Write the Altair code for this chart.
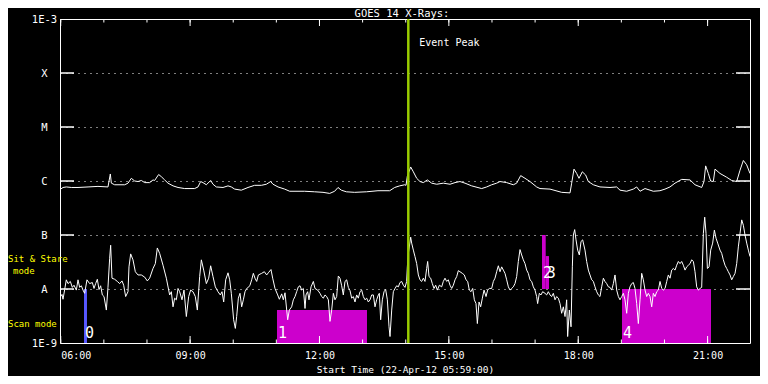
import json
import altair as alt
import pandas as pd

# ---------------- data (time in hours UT, flux as log10 W/m^2) ----------------
long_time = [5.999, 6.053, 6.130, 6.246, 6.401, 6.633, 6.864, 7.096, 7.150, 7.174, 7.251, 7.483, 7.560, 7.637,
             7.715, 7.792, 7.869, 7.947, 8.062, 8.140, 8.178, 8.271, 8.333, 8.410, 8.488, 8.604, 8.720, 8.874,
             9.106, 9.183, 9.245, 9.299, 9.377, 9.477, 9.531, 9.608, 9.763, 9.879, 9.956, 10.034, 10.188, 10.343,
             10.497, 10.652, 10.768, 10.868, 10.923, 11.039, 11.193, 11.309, 11.657, 11.889, 12.082, 12.237,
             12.352, 12.430, 12.507, 12.623, 12.816, 13.087, 13.357, 13.628, 13.744, 13.860, 13.976, 14.007,
             14.038, 14.115, 14.177, 14.254, 14.331, 14.409, 14.501, 14.602, 14.718, 14.872, 15.027, 15.143,
             15.258, 15.375, 15.529, 15.761, 15.877, 15.993, 16.109, 16.186, 16.341, 16.495, 16.573, 16.666,
             16.766, 16.882, 17.036, 17.114, 17.346, 17.616, 17.810, 17.848, 17.902, 17.964, 18.018, 18.095,
             18.173, 18.234, 18.350, 18.505, 18.737, 18.891, 18.969, 19.123, 19.278, 19.355, 19.433, 19.549,
             19.742, 19.896, 20.012, 20.128, 20.244, 20.399, 20.592, 20.708, 20.863, 20.917, 20.955, 21.017,
             21.071, 21.133, 21.172, 21.288, 21.442, 21.558, 21.674, 21.752, 21.829, 21.906, 21.983]
long_logflux = [-6.15, -6.12, -6.11, -6.12, -6.12, -6.11, -6.10, -6.11, -5.87, -6.04, -6.07, -6.07, -6.04, -5.95,
                -6.00, -6.01, -5.99, -6.03, -6.03, -5.98, -5.99, -5.88, -5.92, -5.98, -6.04, -6.09, -6.12, -6.14,
                -6.14, -6.11, -6.01, -6.03, -6.07, -5.99, -6.06, -6.11, -6.12, -6.09, -6.11, -6.15, -6.17, -6.12,
                -6.08, -6.08, -6.06, -6.01, -6.06, -6.11, -6.15, -6.19, -6.19, -6.20, -6.21, -6.23,
                -6.19, -6.12, -6.17, -6.20, -6.21, -6.20, -6.18, -6.18, -6.12, -6.09, -6.07, -6.08,
                -5.91, -5.74, -5.83, -5.95, -6.01, -6.03, -5.98, -6.04, -6.06, -6.04, -6.06, -6.03,
                -6.01, -6.04, -6.09, -6.14, -6.11, -6.07, -6.04, -6.01, -6.03, -6.07, -6.04, -5.90,
                -5.95, -6.01, -6.11, -6.14, -6.15, -6.21, -6.22, -6.04, -5.78, -5.86, -5.95, -5.83,
                -5.89, -6.01, -6.07, -6.11, -6.12, -6.11, -6.17, -6.19, -6.15, -6.11, -6.19, -6.14,
                -6.19, -6.18, -6.15, -6.11, -6.04, -5.97, -5.98, -6.07, -6.12, -6.01, -5.72, -5.86,
                -6.00, -6.01, -5.78, -5.86, -5.93, -5.99, -6.01, -5.80, -5.62, -5.70, -5.86]

short_time = [5.999, 6.030, 6.053, 6.092, 6.130, 6.169, 6.223, 6.269, 6.308, 6.362, 6.401, 6.439, 6.478, 6.517,
              6.555, 6.609, 6.671, 6.733, 6.772, 6.810, 6.849, 6.888, 6.926, 6.965, 7.004, 7.058, 7.096, 7.135,
              7.158, 7.189, 7.251, 7.313, 7.367, 7.421, 7.460, 7.506, 7.560, 7.583, 7.622, 7.676, 7.730, 7.792,
              7.869, 7.947, 8.008, 8.062, 8.140, 8.194, 8.240, 8.294, 8.372, 8.449, 8.526, 8.565, 8.604, 8.642,
              8.681, 8.720, 8.758, 8.812, 8.859, 8.913, 8.967, 9.013, 9.067, 9.121, 9.168, 9.222, 9.261, 9.315,
              9.377, 9.431, 9.477, 9.531, 9.585, 9.647, 9.701, 9.740, 9.779, 9.825, 9.879, 9.918, 9.956, 10.010,
              10.049, 10.080, 10.119, 10.157, 10.196, 10.235, 10.273, 10.312, 10.351, 10.389, 10.428, 10.467,
              10.505, 10.544, 10.583, 10.660, 10.722, 10.776, 10.814, 10.876, 10.915, 10.969, 11.031, 11.070,
              11.124, 11.162, 11.201, 11.240, 11.263, 11.301, 11.355, 11.394, 11.433, 11.471, 11.510, 11.549,
              11.587, 11.626, 11.665, 11.688, 11.726, 11.757, 11.804, 11.858, 11.896, 11.958, 12.012, 12.051,
              12.090, 12.128, 12.167, 12.206, 12.244, 12.283, 12.322, 12.360, 12.399, 12.437, 12.476, 12.515,
              12.553, 12.592, 12.631, 12.669, 12.708, 12.747, 12.785, 12.824, 12.863, 12.901, 12.940, 12.979,
              13.017, 13.056, 13.095, 13.133, 13.172, 13.211, 13.249, 13.288, 13.326, 13.365, 13.388, 13.419,
              13.458, 13.497, 13.535, 13.574, 13.613, 13.636, 13.675, 13.713, 13.752, 13.790, 13.829, 13.867,
              13.906, 13.945, 13.983, 14.022, 14.038, 14.061, 14.115, 14.138, 14.177, 14.215, 14.254, 14.293,
              14.331, 14.370, 14.409, 14.447, 14.486, 14.509, 14.540, 14.579, 14.617, 14.656, 14.695, 14.733,
              14.780, 14.834, 14.872, 14.911, 14.950, 14.988, 15.027, 15.066, 15.104, 15.143, 15.182, 15.220,
              15.259, 15.313, 15.359, 15.398, 15.437, 15.475, 15.514, 15.553, 15.591, 15.630, 15.661, 15.700,
              15.738, 15.777, 15.816, 15.862, 15.900, 15.939, 15.993, 16.032, 16.070, 16.109, 16.148, 16.186,
              16.225, 16.264, 16.302, 16.341, 16.380, 16.418, 16.457, 16.495, 16.534, 16.573, 16.611, 16.650,
              16.689, 16.727, 16.766, 16.805, 16.843, 16.882, 16.921, 16.959, 16.998, 17.036, 17.059, 17.098,
              17.137, 17.175, 17.230, 17.268, 17.307, 17.346, 17.384, 17.423, 17.462, 17.500, 17.539, 17.578,
              17.616, 17.655, 17.694, 17.732, 17.755, 17.794, 17.833, 17.864, 17.887, 17.918, 17.949, 17.987,
              18.026, 18.065, 18.103, 18.157, 18.196, 18.235, 18.273, 18.312, 18.351, 18.389, 18.428, 18.467,
              18.505, 18.544, 18.583, 18.621, 18.660, 18.699, 18.737, 18.776, 18.815, 18.853, 18.892, 18.931,
              18.969, 19.008, 19.047, 19.085, 19.124, 19.162, 19.201, 19.240, 19.278, 19.317, 19.356, 19.394,
              19.433, 19.472, 19.510, 19.549, 19.588, 19.626, 19.665, 19.704, 19.742, 19.781, 19.820, 19.858,
              19.897, 19.936, 19.974, 20.013, 20.052, 20.090, 20.129, 20.167, 20.206, 20.245, 20.283, 20.322,
              20.361, 20.399, 20.438, 20.477, 20.515, 20.554, 20.593, 20.631, 20.670, 20.708, 20.747, 20.786,
              20.824, 20.863, 20.902, 20.933, 20.964, 20.995, 21.034, 21.072, 21.118, 21.157, 21.196, 21.234,
              21.288, 21.327, 21.365, 21.404, 21.443, 21.481, 21.520, 21.559, 21.597, 21.636, 21.675, 21.713,
              21.752, 21.791, 21.829, 21.868, 21.907, 21.945, 21.984]
short_logflux = [-8.14, -8.10, -8.19, -8.01, -7.83, -7.90, -7.86, -7.97, -7.93, -8.02, -7.83, -7.97, -7.94, -8.02,
                 -8.08, -7.83, -7.90, -7.88, -7.99, -7.90, -7.82, -8.01, -7.94, -8.11, -8.14, -8.39, -7.97, -7.43,
                 -7.19, -7.80, -7.82, -7.86, -7.90, -7.85, -7.93, -8.14, -8.05, -7.59, -7.35, -7.46, -7.68, -7.74,
                 -7.74, -7.78, -7.85, -7.80, -7.62, -7.53, -7.24, -7.34, -7.56, -7.80, -8.11, -8.05, -8.33, -8.17,
                 -8.20, -7.99, -8.05, -8.20, -8.02, -8.51, -8.14, -8.02, -8.05, -8.14, -8.39, -7.77, -7.46, -7.65,
                 -7.90, -7.80, -7.57, -7.77, -7.96, -8.05, -8.11, -8.05, -8.24, -7.83, -7.70, -7.83, -8.08, -8.57,
                 -8.73, -8.51, -8.17, -8.08, -8.33, -8.20, -8.05, -7.99, -7.97, -7.93, -7.83, -7.71,
                 -7.80, -7.86, -7.74, -7.71, -7.68, -7.74, -7.70, -7.64, -7.80, -7.99, -8.11, -8.19,
                 -8.09, -8.20, -8.07, -8.39, -8.57, -8.39, -8.33, -8.20, -8.14, -8.05, -7.96, -7.94,
                 -8.02, -7.99, -8.36, -8.11, -8.05, -8.20, -7.96, -7.86, -7.99, -8.02, -8.08, -8.14,
                 -8.17, -8.11, -8.14, -8.20, -8.60, -8.39, -8.08, -8.20, -8.14, -7.76, -7.80, -7.94,
                 -8.11, -7.86, -7.83, -7.97, -8.03, -8.17, -8.14, -8.24, -8.11, -8.17, -8.05, -8.02,
                 -8.14, -8.20, -8.17, -8.24, -8.20, -8.11, -8.11, -8.33, -8.20, -8.11, -8.08, -8.57,
                 -8.20, -8.05, -8.01, -8.20, -8.70, -8.88, -8.39, -8.05, -7.99, -7.94, -7.96, -7.88,
                 -7.86, -7.93, -7.97, -7.86, -7.59, -7.34, -7.04, -7.15, -7.28, -7.40, -7.53, -7.74,
                 -7.83, -7.86, -7.80, -7.86, -7.62, -7.49, -7.77, -7.80, -7.90, -7.99, -7.93, -8.02,
                 -7.93, -7.96, -7.86, -7.80, -7.86, -7.83, -7.93, -7.99, -7.93, -7.83, -7.77, -7.66,
                 -7.68, -7.71, -7.74, -7.83, -7.86, -8.02, -8.05, -7.99, -8.20, -8.27, -8.64, -8.24,
                 -8.33, -8.17, -8.02, -8.14, -8.02, -7.99, -7.99, -7.86, -7.80, -7.68, -7.57, -7.68,
                 -7.59, -7.65, -7.71, -7.83, -7.96, -8.02, -7.99, -7.96, -7.90, -7.77, -7.49, -7.27,
                 -7.37, -7.46, -7.53, -7.65, -7.71, -7.83, -7.86, -7.96, -8.02, -8.14, -8.27, -8.08,
                 -8.11, -8.05, -8.08, -8.11, -8.05, -8.11, -8.14, -8.08, -8.20, -8.14, -8.17, -8.27,
                 -8.45, -8.33, -8.51, -8.20, -8.88, -8.39, -8.70, -7.59, -7.00, -6.90, -7.09, -7.28,
                 -7.37, -7.12, -7.09, -7.28, -7.49, -7.65, -7.74, -7.83, -7.86, -7.96, -8.05, -8.11,
                 -8.14, -7.96, -7.80, -7.86, -7.90, -7.96, -7.97, -8.02, -7.90, -7.74, -8.02, -8.14,
                 -8.20, -8.14, -8.08, -8.20, -8.45, -8.08, -7.96, -7.90, -7.88, -7.99, -8.27, -8.64,
                 -8.20, -7.71, -7.83, -8.02, -8.14, -8.08, -8.14, -8.33, -8.08, -8.14, -8.05, -8.02,
                 -7.86, -7.99, -8.02, -7.99, -7.86, -7.74, -7.80, -7.65, -7.62, -7.65, -7.56, -7.49,
                 -7.53, -7.49, -7.56, -7.65, -7.59, -7.56, -7.53, -7.46, -7.49, -7.68, -7.96, -8.02,
                 -7.99, -7.97, -6.97, -6.67, -6.97, -7.62, -7.59, -7.28, -7.15, -6.91, -7.06, -7.15,
                 -7.28, -7.34, -7.46, -7.56, -7.62, -7.68, -7.74, -7.83, -7.77, -7.71, -7.53, -7.22,
                 -6.97, -6.72, -6.82, -7.00, -7.15, -7.28, -7.40]

obs_id = ["0", "1", "2", "3", "4"]
obs_start = [6.540, 11.015, 17.160, 17.246, 19.015]
obs_end = [6.609, 13.102, 17.246, 17.322, 21.079]
obs_low = [-9.0, -9.0, -8.0, -8.0, -9.0]
obs_high = [-8.0, -8.39, -7.0, -7.39, -8.0]
obs_kind = ["other", "scan", "sitstare", "sitstare", "scan"]
obs_label_level = [-8.91, -8.91, -7.80, -7.80, -8.91]

kinds = ["other", "scan", "sitstare"]
kind_colors = ["#5858ff", "#cc00cc", "#cc00cc"]

event_time = 14.06
event_label = "Event Peak"

level_values = [-9, -8, -7, -6, -5, -4, -3]
level_labels = ["1E-9", "A", "B", "C", "M", "X", "1E-3"]
hour_ticks = list(range(6, 22))
hour_labels = [6, 9, 12, 15, 18, 21]
t_start = 5 + 59 / 60
t_end = t_start + 16

mode_text = ["Sit & Stare", "mode", "Scan mode"]
mode_level = [-7.44, -7.67, -8.65]

title_text = "GOES 14 X-Rays:"
x_title = "Start Time (22-Apr-12 05:59:00)"

# ---------------- chart ----------------
FONT = "DejaVu Sans Mono"
W, H = 690, 324
xs = alt.Scale(domain=[t_start, t_end], nice=False, zero=False)
ys = alt.Scale(domain=[-9, -3], nice=False, zero=False)

x_axis = alt.Axis(values=hour_labels,
                  labelExpr="(datum.value < 10 ? '0' : '') + datum.value + ':00'",
                  title=x_title, grid=False, ticks=False, tickSize=0, domain=False,
                  labelPadding=7, labelColor="white", labelFont=FONT, labelFontSize=10,
                  titleColor="white", titleFont=FONT, titleFontSize=9.5, titleFontWeight="normal",
                  titlePadding=4)
y_axis = alt.Axis(values=level_values,
                  labelExpr=json.dumps(level_labels) + "[datum.value + 9]",
                  title="", grid=True, gridColor="white", gridDash=[1, 5], gridWidth=1, gridOpacity=1,
                  ticks=False, tickSize=0, domain=False, labelAlign="center", labelBaseline="middle",
                  labelPadding=16, labelColor="white", labelFont=FONT, labelFontSize=10.5)


def X(field):
    return alt.X(field, scale=xs, axis=x_axis)


def Y(field):
    return alt.Y(field, scale=ys, axis=y_axis)


obs = pd.DataFrame({"id": obs_id, "start": obs_start, "end": obs_end, "low": obs_low,
                    "high": obs_high, "kind": obs_kind, "lab": obs_label_level})

bars = alt.Chart(obs).mark_rect().encode(
    x=X("start:Q"), x2="end:Q", y=Y("low:Q"), y2="high:Q",
    color=alt.Color("kind:N", scale=alt.Scale(domain=kinds, range=kind_colors), legend=None),
)

long_line = alt.Chart(pd.DataFrame({"t": long_time, "f": long_logflux})).mark_line(
    color="white", strokeWidth=1, clip=True).encode(x=X("t:Q"), y=Y("f:Q"))

short_line = alt.Chart(pd.DataFrame({"t": short_time, "f": short_logflux})).mark_line(
    color="white", strokeWidth=1, clip=True).encode(x=X("t:Q"), y=Y("f:Q"))

ev_df = pd.DataFrame({"t": [event_time], "label": [event_label]})
event_rule = alt.Chart(ev_df).mark_rule(color="#9acd00", strokeWidth=2.5).encode(x=X("t:Q"))
event_text = alt.Chart(ev_df).mark_text(align="left", baseline="alphabetic", dx=11, dy=27,
                                        color="white", font=FONT, fontSize=10).encode(
    x=X("t:Q"), y=alt.value(0), text="label:N")

minor_df = pd.DataFrame([(h, e) for h in hour_ticks for e in (-9, -3)], columns=["t", "edge"])
major_df = minor_df[minor_df["t"].isin(hour_labels)]
minor_ticks = alt.Chart(minor_df).mark_tick(orient="vertical", size=7, thickness=1, color="white",
                                            opacity=1, clip=True).encode(x=X("t:Q"), y=Y("edge:Q"))
major_ticks = alt.Chart(major_df).mark_tick(orient="vertical", size=14, thickness=1, color="white",
                                            opacity=1, clip=True).encode(x=X("t:Q"), y=Y("edge:Q"))
ytick_df = pd.DataFrame([(lv, e) for lv in level_values[1:-1] for e in (t_start, t_end)],
                        columns=["lv", "edge"])
y_ticks = alt.Chart(ytick_df).mark_tick(orient="horizontal", size=28, thickness=1.5, color="white",
                                        opacity=1, clip=True).encode(x=X("edge:Q"), y=Y("lv:Q"))

bar_labels = alt.Chart(obs).mark_text(align="left", baseline="alphabetic", dx=1, color="white",
                                      font=FONT, fontSize=15).encode(
    x=X("start:Q"), y=Y("lab:Q"), text="id:N")

mode_df = pd.DataFrame({"text": mode_text, "level": mode_level})
mode_main = alt.Chart(mode_df[mode_df["text"] != "mode"]).mark_text(
    align="left", baseline="middle", color="yellow", font=FONT, fontSize=9).encode(
    x=alt.value(-52), y=Y("level:Q"), text="text:N")
mode_sub = alt.Chart(mode_df[mode_df["text"] == "mode"]).mark_text(
    align="left", baseline="middle", color="yellow", font=FONT, fontSize=9).encode(
    x=alt.value(-47), y=Y("level:Q"), text="text:N")

title_df = pd.DataFrame({"text": [title_text]})
title_mark = alt.Chart(title_df).mark_text(align="center", baseline="alphabetic", color="white",
                                           font=FONT, fontSize=10.5).encode(
    x=alt.value(W / 2 - 3), y=alt.value(-2.5), text="text:N")

chart = alt.layer(
    bars, long_line, short_line, event_rule, minor_ticks, major_ticks, y_ticks,
    event_text, bar_labels, mode_main, mode_sub, title_mark,
).properties(
    width=W, height=H,
    autosize=alt.AutoSizeParams(type="none"),
    padding={"left": 52, "top": 11, "right": 10, "bottom": 33},
    background="black",
).configure_view(stroke="white", strokeWidth=1)

chart.save("out.html", embed_options={"renderer": "svg", "actions": False})
